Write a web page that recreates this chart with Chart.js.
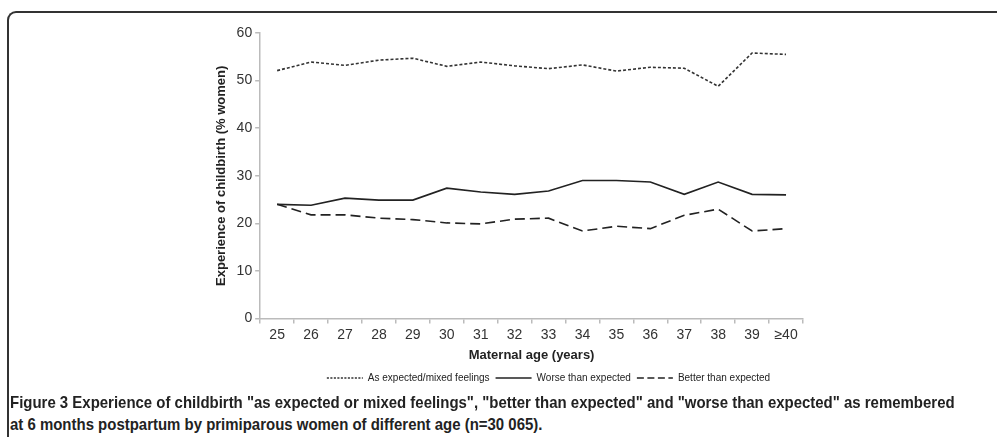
<!DOCTYPE html>
<html>
<head>
<meta charset="utf-8">
<script src="https://cdn.jsdelivr.net/npm/chart.js@4"></script>
<style>
  html, body { margin: 0; padding: 0; background: #fff; }
  #wrap { position: relative; width: 997px; height: 437px; overflow: hidden; }
  #frame { position: absolute; left: 7px; top: 11px; width: 1000px; height: 440px;
           border-top: 2px solid #333; border-left: 2px solid #333; border-top-left-radius: 9px; }
  #myChart { position: absolute; left: 0; top: 0; }
  .cap { position: absolute; left: 10px; font-family: "Liberation Sans", Arial, sans-serif;
         font-size: 17px; font-weight: bold; color: #222; white-space: nowrap;
         transform: scaleX(0.88); transform-origin: 0 0; }
</style>
</head>
<body>
<div id="wrap">
  <div id="frame"></div>
  <canvas id="myChart" width="997" height="397"></canvas>
  <div class="cap" style="top:393px">Figure 3 Experience of childbirth "as expected or mixed feelings", "better than expected" and "worse than expected" as remembered</div>
  <div class="cap" style="top:415px">at 6 months postpartum by primiparous women of different age (n=30 065).</div>
</div>
<script>
// categorias (idade materna) e valores
var idades = ['25', '26', '27', '28', '29', '30', '31', '32', '33', '34', '35', '36', '37', '38', '39', '≥40'];
var comoEsperado = [52.1, 53.9, 53.2, 54.3, 54.7, 53.0, 53.9, 53.1, 52.5, 53.3, 52.0, 52.8, 52.6, 48.8, 55.8, 55.5];
var piorQueEsperado = [24.0, 23.8, 25.3, 24.9, 24.9, 27.4, 26.6, 26.1, 26.8, 29.0, 29.0, 28.7, 26.1, 28.7, 26.1, 26.0];
var melhorQueEsperado = [24.0, 21.8, 21.8, 21.1, 20.8, 20.1, 19.9, 20.9, 21.1, 18.4, 19.4, 18.9, 21.7, 23.0, 18.4, 18.9];
var yTicks = [0, 10, 20, 30, 40, 50, 60];

Chart.defaults.font.family = '"Liberation Sans", Arial, sans-serif';
Chart.defaults.color = '#333';

var ctx = document.getElementById('myChart').getContext('2d');

// desloca a legenda um pouco para a direita, como na figura original
var deslocaLegenda = {
  id: 'deslocaLegenda',
  afterLayout: function (chart) {
    chart.legend.left += 42;
    chart.legend.right += 42;
  }
};

function criaGrafico() {
  var defaultLabels = Chart.defaults.plugins.legend.labels.generateLabels;
  new Chart(ctx, {
    type: 'line',
    data: {
      labels: idades,
      datasets: [{
        label: 'As expected/mixed feelings',
        data: comoEsperado,
        borderColor: '#333',
        borderWidth: 1.6,
        borderDash: [3, 2],
        pointRadius: 0,
        tension: 0
      }, {
        label: 'Worse than expected',
        data: piorQueEsperado,
        borderColor: '#222',
        borderWidth: 1.6,
        pointRadius: 0,
        tension: 0
      }, {
        label: 'Better than expected',
        data: melhorQueEsperado,
        borderColor: '#222',
        borderWidth: 1.6,
        borderDash: [10, 5],
        pointRadius: 0,
        tension: 0
      }]
    },
    plugins: [deslocaLegenda],
    options: {
      responsive: false,
      animation: false,
      layout: { padding: { left: 210, right: 194, top: 33, bottom: 4 } },
      plugins: {
        tooltip: { enabled: false },
        legend: {
          position: 'bottom',
          labels: {
            usePointStyle: true,
            pointStyle: 'line',
            pointStyleWidth: 36,
            padding: 6,
            color: '#222',
            font: { size: 10 },
            generateLabels: function (chart) {
              var items = defaultLabels(chart);
              items.forEach(function (it) {
                var ds = chart.data.datasets[it.datasetIndex];
                it.lineDash = ds.borderDash ? ds.borderDash.map(function (d) { return d * 0.7; }) : [];
                it.lineWidth = 1.4;
                it.strokeStyle = ds.borderColor;
                it.pointStyle = 'line';
              });
              return items;
            }
          }
        }
      },
      scales: {
        x: {
          offset: true,
          grid: { display: true, offset: true, drawOnChartArea: false, drawTicks: true, tickLength: 5, color: '#bbb', lineWidth: 1.5 },
          border: { display: true, color: '#bbb', width: 1.5 },
          ticks: { font: { size: 14 }, color: '#333', padding: 3, maxRotation: 0, autoSkip: false },
          title: { display: true, text: 'Maternal age (years)', font: { size: 13, weight: 'bold' }, color: '#222', padding: { top: 1, bottom: 4 } }
        },
        y: {
          min: 0,
          max: 60,
          afterBuildTicks: function (scale) {
            scale.ticks = yTicks.map(function (v) { return { value: v }; });
          },
          grid: { display: true, drawOnChartArea: false, drawTicks: true, tickLength: 5, color: '#bbb', lineWidth: 1.5 },
          border: { display: true, color: '#bbb', width: 1.5 },
          ticks: { font: { size: 14 }, color: '#333', padding: 3 },
          title: { display: true, text: 'Experience of childbirth (% women)', font: { size: 13, weight: 'bold' }, color: '#222', padding: { top: 4, bottom: 4 } }
        }
      }
    }
  });
}

criaGrafico();
</script>
</body>
</html>
